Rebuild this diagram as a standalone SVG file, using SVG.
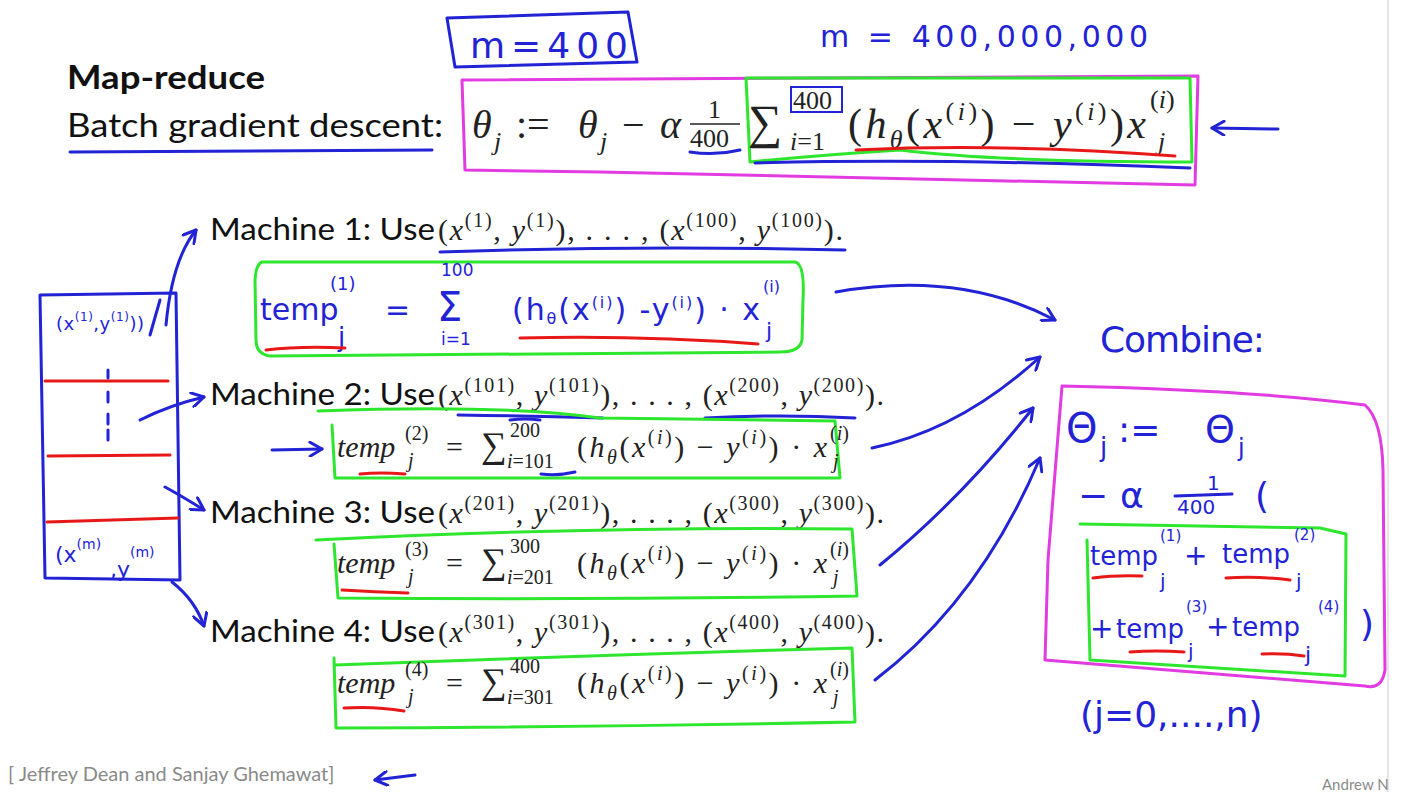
<svg xmlns="http://www.w3.org/2000/svg" width="1404" height="792" viewBox="0 0 1404 792">
<style>
.bg{fill:#ffffff}
.sans{font-family:"Lato","Liberation Sans",sans-serif;fill:#111}
.math{font-family:"Liberation Serif",serif;fill:#222}
.it{font-style:italic}
.hw{font-family:"DejaVu Sans","Liberation Sans",sans-serif;fill:#2323d6}
.b{stroke:#2323d6;stroke-width:3;fill:none;stroke-linecap:round;stroke-linejoin:round}
.r{stroke:#e81818;stroke-width:3;fill:none;stroke-linecap:round}
.g{stroke:#2ee62e;stroke-width:3;fill:none;stroke-linecap:round;stroke-linejoin:round}
.m{stroke:#e23be2;stroke-width:3;fill:none;stroke-linecap:round;stroke-linejoin:round}
.gray{font-family:"Lato","Liberation Sans",sans-serif;fill:#8a8a8a}
</style>
<defs>
<marker id="ah" markerWidth="16" markerHeight="16" refX="14" refY="8" orient="auto" markerUnits="userSpaceOnUse">
<path d="M2,1 L14,8 L2,15" fill="none" stroke="#2323d6" stroke-width="3" stroke-linecap="round" stroke-linejoin="round"/>
</marker>
</defs>
<rect class="bg" x="0" y="0" width="1404" height="792"/>
<line x1="1388" y1="0" x2="1388" y2="792" stroke="#e6e6e6" stroke-width="2"/>

<g id="title">
<text class="sans" x="67" y="89" font-size="33" font-weight="bold" textLength="198" lengthAdjust="spacingAndGlyphs">Map-reduce</text>
<text class="sans" x="67" y="137" font-size="32" textLength="376" lengthAdjust="spacingAndGlyphs">Batch gradient descent:</text>
<path class="b" d="M70,152 L432,150"/>
</g>

<g id="m400">
<path class="b" d="M447,18 L628,12 L637,62 L455,67 Z"/>
<text class="hw" x="470" y="58" font-size="36" textLength="158">m=400</text>
<text class="hw" x="820" y="47" font-size="30" textLength="328">m = 400,000,000</text>
</g>

<g id="batch-formula">
<path class="m" d="M462,80 L1198,76 L1195,185 Q900,178 600,172 L465,170 Z"/>
<path class="g" d="M746,78 L1190,78 L1192,162 Q1000,162 900,150 Q820,155 750,162 Z"/>
<path class="b" d="M755,163 Q950,158 1190,168"/>
<text class="math it" x="472" y="138" font-size="40">θ</text>
<text class="math it" x="494" y="150" font-size="26">j</text>
<text class="math" x="516" y="138" font-size="40">:=</text>
<text class="math it" x="578" y="138" font-size="40">θ</text>
<text class="math it" x="600" y="150" font-size="26">j</text>
<text class="math" x="622" y="138" font-size="40">−</text>
<text class="math it" x="660" y="138" font-size="40">α</text>
<text class="math" x="708" y="118" font-size="26">1</text>
<line x1="690" y1="124" x2="740" y2="124" stroke="#222" stroke-width="1.5"/>
<text class="math" x="690" y="147" font-size="26">400</text>
<path class="b" d="M690,152 Q715,156 740,150"/>
<text class="math" x="748" y="138" font-size="48">∑</text>
<rect x="791" y="87" width="51" height="25" fill="none" stroke="#2323d6" stroke-width="2"/>
<text class="math" x="793" y="109" font-size="26">400</text>
<text class="math" x="790" y="150" font-size="26"><tspan class="it">i</tspan>=1</text>
<text class="math" x="848" y="138" font-size="42" textLength="298" lengthAdjust="spacing">(<tspan class="it">h</tspan><tspan font-size="26" dy="10" class="it">θ</tspan><tspan dy="-10">(</tspan><tspan class="it">x</tspan><tspan font-size="26" dy="-18">(<tspan class="it">i</tspan>)</tspan><tspan dy="18">) − </tspan><tspan class="it">y</tspan><tspan font-size="26" dy="-18">(<tspan class="it">i</tspan>)</tspan><tspan dy="18">)</tspan><tspan class="it">x</tspan></text>
<text class="math" x="1150" y="108" font-size="26">(<tspan class="it">i</tspan>)</text>
<text class="math it" x="1158" y="150" font-size="26">j</text>
<path class="r" d="M856,150 Q1000,143 1175,156"/>
</g>

<g id="data">
<path class="b" d="M40,295 L176,293 L180,580 L45,578 Z"/>
<text class="hw" x="56" y="330" font-size="18" textLength="88">(x<tspan font-size="12" dy="-9">(1)</tspan><tspan dy="9">,y</tspan><tspan font-size="12" dy="-9">(1)</tspan><tspan dy="9">))</tspan></text>
<path class="b" d="M150,335 L160,300"/>
<path class="r" d="M45,381 L168,381"/>
<path class="r" d="M48,456 L170,455"/>
<path class="r" d="M47,522 L178,518"/>
<path class="b" d="M108,370 L108,378 M108,392 L108,402 M108,414 L108,424 M108,430 L108,440" stroke-width="2"/>
<text class="hw" x="55" y="562" font-size="22">(x<tspan font-size="14" dy="-13">(m)</tspan></text>
<text class="hw" x="110" y="577" font-size="22">,y<tspan font-size="14" dy="-20">(m)</tspan></text>
</g>

<g id="machine1">
<text class="sans" x="210" y="240" font-size="30" textLength="225" lengthAdjust="spacingAndGlyphs">Machine 1: Use</text>
<text class="math" x="438" y="240" font-size="30" textLength="405" lengthAdjust="spacing">(<tspan class="it">x</tspan><tspan font-size="20" dy="-13">(1)</tspan><tspan dy="13">, </tspan><tspan class="it">y</tspan><tspan font-size="20" dy="-13">(1)</tspan><tspan dy="13">), . . . , (</tspan><tspan class="it">x</tspan><tspan font-size="20" dy="-13">(100)</tspan><tspan dy="13">, </tspan><tspan class="it">y</tspan><tspan font-size="20" dy="-13">(100)</tspan><tspan dy="13">).</tspan></text>
<path class="b" d="M440,252 Q640,245 845,250"/>
<path class="g" d="M262,262 L795,262 Q805,264 803,300 L802,340 Q800,352 780,352 L270,356 Q256,354 256,340 L255,280 Q256,264 262,262 Z"/>
<text class="hw" x="260" y="320" font-size="30">temp</text>
<text class="hw" x="330" y="290" font-size="18">(1)</text>
<text class="hw" x="338" y="346" font-size="26">j</text>
<text class="hw" x="385" y="320" font-size="30">=</text>
<text class="hw" x="437" y="321" font-size="40">Σ</text>
<text class="hw" x="441" y="276" font-size="17">100</text>
<text class="hw" x="441" y="345" font-size="17">i=1</text>
<text class="hw" x="512" y="320" font-size="30" textLength="248" lengthAdjust="spacing">(h<tspan font-size="16" dy="4">θ</tspan><tspan dy="-4">(x</tspan><tspan font-size="16" dy="-12">(i)</tspan><tspan dy="12">) -y</tspan><tspan font-size="16" dy="-12">(i)</tspan><tspan dy="12">) · x</tspan></text>
<text class="hw" x="763" y="292" font-size="16">(i)</text>
<text class="hw" x="766" y="338" font-size="22">j</text>
<path class="r" d="M266,350 Q300,346 345,348"/>
<path class="r" d="M520,338 Q640,335 758,344"/>
</g>

<g id="machine2">
<text class="sans" x="210" y="405" font-size="30" textLength="225" lengthAdjust="spacingAndGlyphs">Machine 2: Use</text>
<text class="math" x="438" y="405" font-size="30" textLength="446" lengthAdjust="spacing">(<tspan class="it">x</tspan><tspan font-size="20" dy="-13">(101)</tspan><tspan dy="13">, </tspan><tspan class="it">y</tspan><tspan font-size="20" dy="-13">(101)</tspan><tspan dy="13">), . . . , (</tspan><tspan class="it">x</tspan><tspan font-size="20" dy="-13">(200)</tspan><tspan dy="13">, </tspan><tspan class="it">y</tspan><tspan font-size="20" dy="-13">(200)</tspan><tspan dy="13">).</tspan></text>
<path class="b" d="M458,415 Q530,416 603,418"/>
<path class="b" d="M705,418 Q780,414 855,418"/>
<path class="g" d="M318,411 Q500,404 600,418 L835,421 L840,478 L335,478 L332,425"/>
<text class="math it" x="337" y="457" font-size="30">temp</text>
<text class="math" x="405" y="440" font-size="20">(2)</text>
<text class="math it" x="408" y="467" font-size="20">j</text>
<text class="math" x="446" y="457" font-size="30">=</text>
<text class="math" x="481" y="457" font-size="36">∑</text>
<text class="math" x="510" y="437" font-size="20">200</text>
<text class="math" x="507" y="468" font-size="20"><tspan class="it">i</tspan>=101</text>
<text class="math" x="577" y="457" font-size="30" textLength="250" lengthAdjust="spacing">(<tspan class="it">h</tspan><tspan font-size="20" dy="7" class="it">θ</tspan><tspan dy="-7">(</tspan><tspan class="it">x</tspan><tspan font-size="20" dy="-13">(<tspan class="it">i</tspan>)</tspan><tspan dy="13">) − </tspan><tspan class="it">y</tspan><tspan font-size="20" dy="-13">(<tspan class="it">i</tspan>)</tspan><tspan dy="13">) · </tspan><tspan class="it">x</tspan></text>
<text class="math" x="830" y="440" font-size="20">(<tspan class="it">i</tspan>)</text>
<text class="math it" x="833" y="468" font-size="20">j</text>
<path class="r" d="M360,474 Q380,472 405,474"/>
<path class="b" d="M541,474 Q558,476 575,472"/>
<path class="b" d="M510,420 Q525,418 540,420" stroke-width="2"/>
</g>

<g id="machine3">
<text class="sans" x="210" y="523" font-size="30" textLength="225" lengthAdjust="spacingAndGlyphs">Machine 3: Use</text>
<text class="math" x="438" y="523" font-size="30" textLength="446" lengthAdjust="spacing">(<tspan class="it">x</tspan><tspan font-size="20" dy="-13">(201)</tspan><tspan dy="13">, </tspan><tspan class="it">y</tspan><tspan font-size="20" dy="-13">(201)</tspan><tspan dy="13">), . . . , (</tspan><tspan class="it">x</tspan><tspan font-size="20" dy="-13">(300)</tspan><tspan dy="13">, </tspan><tspan class="it">y</tspan><tspan font-size="20" dy="-13">(300)</tspan><tspan dy="13">).</tspan></text>
<path class="g" d="M316,540 Q600,526 852,529 L857,596 Q600,600 338,598 L334,544"/>
<text class="math it" x="337" y="573" font-size="30">temp</text>
<text class="math" x="405" y="556" font-size="20">(3)</text>
<text class="math it" x="408" y="583" font-size="20">j</text>
<text class="math" x="446" y="573" font-size="30">=</text>
<text class="math" x="481" y="573" font-size="36">∑</text>
<text class="math" x="510" y="553" font-size="20">300</text>
<text class="math" x="507" y="584" font-size="20"><tspan class="it">i</tspan>=201</text>
<text class="math" x="577" y="573" font-size="30" textLength="250" lengthAdjust="spacing">(<tspan class="it">h</tspan><tspan font-size="20" dy="7" class="it">θ</tspan><tspan dy="-7">(</tspan><tspan class="it">x</tspan><tspan font-size="20" dy="-13">(<tspan class="it">i</tspan>)</tspan><tspan dy="13">) − </tspan><tspan class="it">y</tspan><tspan font-size="20" dy="-13">(<tspan class="it">i</tspan>)</tspan><tspan dy="13">) · </tspan><tspan class="it">x</tspan></text>
<text class="math" x="830" y="556" font-size="20">(<tspan class="it">i</tspan>)</text>
<text class="math it" x="833" y="584" font-size="20">j</text>
<path class="r" d="M342,590 Q375,592 408,593"/>
</g>

<g id="machine4">
<text class="sans" x="210" y="642" font-size="30" textLength="225" lengthAdjust="spacingAndGlyphs">Machine 4: Use</text>
<text class="math" x="438" y="642" font-size="30" textLength="446" lengthAdjust="spacing">(<tspan class="it">x</tspan><tspan font-size="20" dy="-13">(301)</tspan><tspan dy="13">, </tspan><tspan class="it">y</tspan><tspan font-size="20" dy="-13">(301)</tspan><tspan dy="13">), . . . , (</tspan><tspan class="it">x</tspan><tspan font-size="20" dy="-13">(400)</tspan><tspan dy="13">, </tspan><tspan class="it">y</tspan><tspan font-size="20" dy="-13">(400)</tspan><tspan dy="13">).</tspan></text>
<path class="g" d="M335,665 Q600,655 852,648 L855,722 Q600,727 336,728 L334,658"/>
<text class="math it" x="337" y="693" font-size="30">temp</text>
<text class="math" x="405" y="676" font-size="20">(4)</text>
<text class="math it" x="408" y="703" font-size="20">j</text>
<text class="math" x="446" y="693" font-size="30">=</text>
<text class="math" x="481" y="693" font-size="36">∑</text>
<text class="math" x="510" y="673" font-size="20">400</text>
<text class="math" x="507" y="704" font-size="20"><tspan class="it">i</tspan>=301</text>
<text class="math" x="577" y="693" font-size="30" textLength="250" lengthAdjust="spacing">(<tspan class="it">h</tspan><tspan font-size="20" dy="7" class="it">θ</tspan><tspan dy="-7">(</tspan><tspan class="it">x</tspan><tspan font-size="20" dy="-13">(<tspan class="it">i</tspan>)</tspan><tspan dy="13">) − </tspan><tspan class="it">y</tspan><tspan font-size="20" dy="-13">(<tspan class="it">i</tspan>)</tspan><tspan dy="13">) · </tspan><tspan class="it">x</tspan></text>
<text class="math" x="830" y="676" font-size="20">(<tspan class="it">i</tspan>)</text>
<text class="math it" x="833" y="704" font-size="20">j</text>
<path class="r" d="M344,708 Q375,706 404,711"/>
</g>

<g id="combine">
<text class="hw" x="1100" y="352" font-size="36" textLength="165">Combine:</text>
<path class="m" d="M1062,386 Q1250,390 1365,405 Q1382,420 1383,470 L1385,670 Q1382,690 1365,686 L1045,660 L1048,560 L1062,386 Z"/>
<text class="hw" x="1066" y="442" font-size="40">Θ</text>
<text class="hw" x="1100" y="456" font-size="26">j</text>
<text class="hw" x="1118" y="442" font-size="36">:=</text>
<text class="hw" x="1205" y="442" font-size="38">Θ</text>
<text class="hw" x="1238" y="456" font-size="24">j</text>
<text class="hw" x="1078" y="508" font-size="36">−</text>
<text class="hw" x="1120" y="508" font-size="36">α</text>
<text class="hw" x="1207" y="490" font-size="20">1</text>
<path class="b" d="M1175,496 L1232,494" stroke-width="2"/>
<text class="hw" x="1177" y="514" font-size="20">400</text>
<text class="hw" x="1255" y="508" font-size="36">(</text>
<path class="g" d="M1080,524 L1320,528 L1346,534 L1345,676 L1090,660 L1087,540"/>
<text class="hw" x="1090" y="565" font-size="26">temp</text>
<text class="hw" x="1160" y="541" font-size="15">(1)</text>
<text class="hw" x="1160" y="588" font-size="20">j</text>
<text class="hw" x="1184" y="565" font-size="28">+</text>
<text class="hw" x="1222" y="563" font-size="26">temp</text>
<text class="hw" x="1294" y="540" font-size="15">(2)</text>
<text class="hw" x="1296" y="588" font-size="20">j</text>
<text class="hw" x="1090" y="638" font-size="28">+</text>
<text class="hw" x="1116" y="638" font-size="26">temp</text>
<text class="hw" x="1186" y="612" font-size="15">(3)</text>
<text class="hw" x="1188" y="658" font-size="20">j</text>
<text class="hw" x="1206" y="636" font-size="28">+</text>
<text class="hw" x="1232" y="636" font-size="26">temp</text>
<text class="hw" x="1318" y="612" font-size="15">(4)</text>
<text class="hw" x="1305" y="662" font-size="22">j</text>
<text class="hw" x="1360" y="636" font-size="36">)</text>
<path class="r" d="M1093,578 Q1115,575 1142,576"/>
<path class="r" d="M1226,578 Q1258,576 1290,580"/>
<path class="r" d="M1130,652 Q1156,650 1184,652"/>
<path class="r" d="M1262,654 Q1285,653 1304,656"/>
<text class="hw" x="1080" y="727" font-size="36">(j=0,....,n)</text>
</g>

<g id="credits">
<text class="gray" x="8" y="781" font-size="20">[ Jeffrey Dean and Sanjay Ghemawat]</text>
<text class="gray" x="1322" y="790" font-size="15">Andrew N</text>
</g>

<g id="connectors">
<path class="b" marker-end="url(#ah)" d="M1278,129 L1212,128"/>
<path class="b" marker-end="url(#ah)" d="M166,325 Q172,260 196,230"/>
<path class="b" marker-end="url(#ah)" d="M140,420 Q170,405 204,397"/>
<path class="b" marker-end="url(#ah)" d="M272,450 L322,449"/>
<path class="b" marker-end="url(#ah)" d="M165,487 Q180,495 204,510"/>
<path class="b" marker-end="url(#ah)" d="M172,582 Q195,600 204,626"/>
<path class="b" marker-end="url(#ah)" d="M836,292 Q960,270 1055,320"/>
<path class="b" marker-end="url(#ah)" d="M872,448 Q960,430 1040,357"/>
<path class="b" marker-end="url(#ah)" d="M880,565 Q960,500 1033,408"/>
<path class="b" marker-end="url(#ah)" d="M875,680 Q980,600 1040,458"/>
<path class="b" marker-end="url(#ah)" d="M415,775 L375,780"/>
</g>
</svg>
